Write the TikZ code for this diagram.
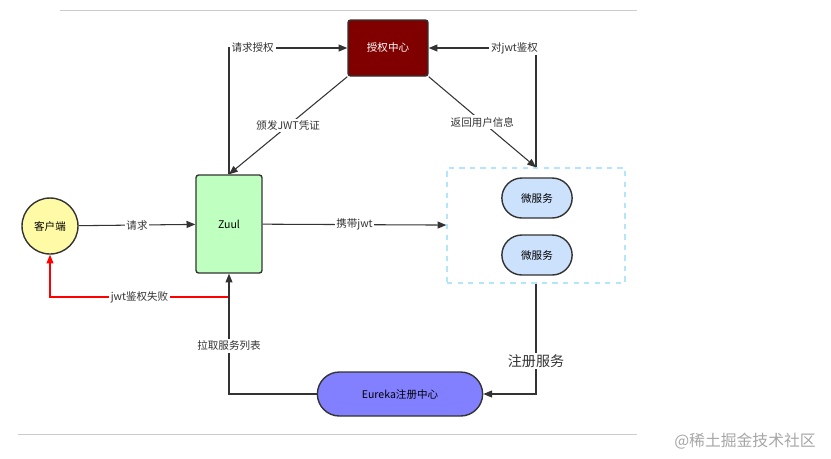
\documentclass[tikz,border=0pt]{standalone}
\usepackage{fontspec}
\setmainfont{Noto Sans CJK SC}
\usetikzlibrary{positioning, arrows.meta, calc, shapes.misc}
\definecolor{msblue}{RGB}{204,225,252}
\definecolor{eureka}{RGB}{130,128,255}

\begin{document}
\begin{tikzpicture}[x=0.02cm, y=-0.02cm, font=\fontsize{6}{7}\selectfont,
		box/.style={draw=black!80, rounded corners=1.5pt, thick},
		pill/.style={draw=black!80, rounded rectangle, thick},
		line/.style={semithick, black!80, -{Triangle[length=5pt, width=4pt]}},
		lbl/.style={fill=white, inner sep=1pt, text=black!80}]

		\useasboundingbox (0,0) rectangle (831,458);
		\draw[gray!40] (60,10) -- (637,10);
		\draw[gray!40] (18,434) -- (637,434);

		\node[draw=black!80, thick, circle, fill=yellow!35, minimum size=1.12cm, inner sep=0pt] (client) at (50,226) {客户端};
		\node[box, fill=green!25, minimum width=1.32cm, minimum height=1.96cm] (zuul) at (229,224) {Zuul};
		\node[box, fill=red!50!black, text=white, minimum width=1.6cm, minimum height=1.12cm] (auth) at (388,48) {授权中心};
		\node[draw=cyan!30, dashed, thick, minimum width=3.56cm, minimum height=2.3cm] (ms) at (536,225.5) {};
		\node[pill, fill=msblue, minimum width=1.64cm, minimum height=0.8cm] (ms1) at (537,198) {微服务};
		\node[pill, fill=msblue, minimum width=1.64cm, minimum height=0.8cm] (ms2) at (537,255) {微服务};
		\node[pill, fill=eureka, minimum width=3.54cm, minimum height=0.88cm] (eureka) at (400,394) {Eureka注册中心};

		\draw[line] (zuul.north) |- node[lbl, pos=.6] {请求授权} (auth.west);
		\draw[line] (auth.south west) -- node[lbl] {颁发JWT凭证} (zuul.north);
		\draw[line] (ms.north) |- node[lbl, pos=.6] {对jwt鉴权} (auth.east);
		\draw[line] (auth.south east) -- node[lbl] {返回用户信息} (ms.north);
		\draw[line] (client) -- node[lbl] {请求} (zuul);
		\draw[line] (zuul) -- node[lbl] {携带jwt} (ms);
		\draw[line] (ms.south) |- node[lbl, pos=.35, font=\fontsize{8}{9}\selectfont] {注册服务} (eureka.east);
		\coordinate (fail) at (zuul.south |- 0,297);
		\draw[line, red] (fail) -| node[lbl, pos=.25] {jwt鉴权失败} (client.south);
		\draw[line] (eureka.west) -| node[lbl, pos=.7] {拉取服务列表} (zuul.south);

		\node[text=gray!70, font=\fontsize{9}{10}\selectfont] (mark) at (745,441) {@稀土掘金技术社区};
\end{tikzpicture}
\end{document}
